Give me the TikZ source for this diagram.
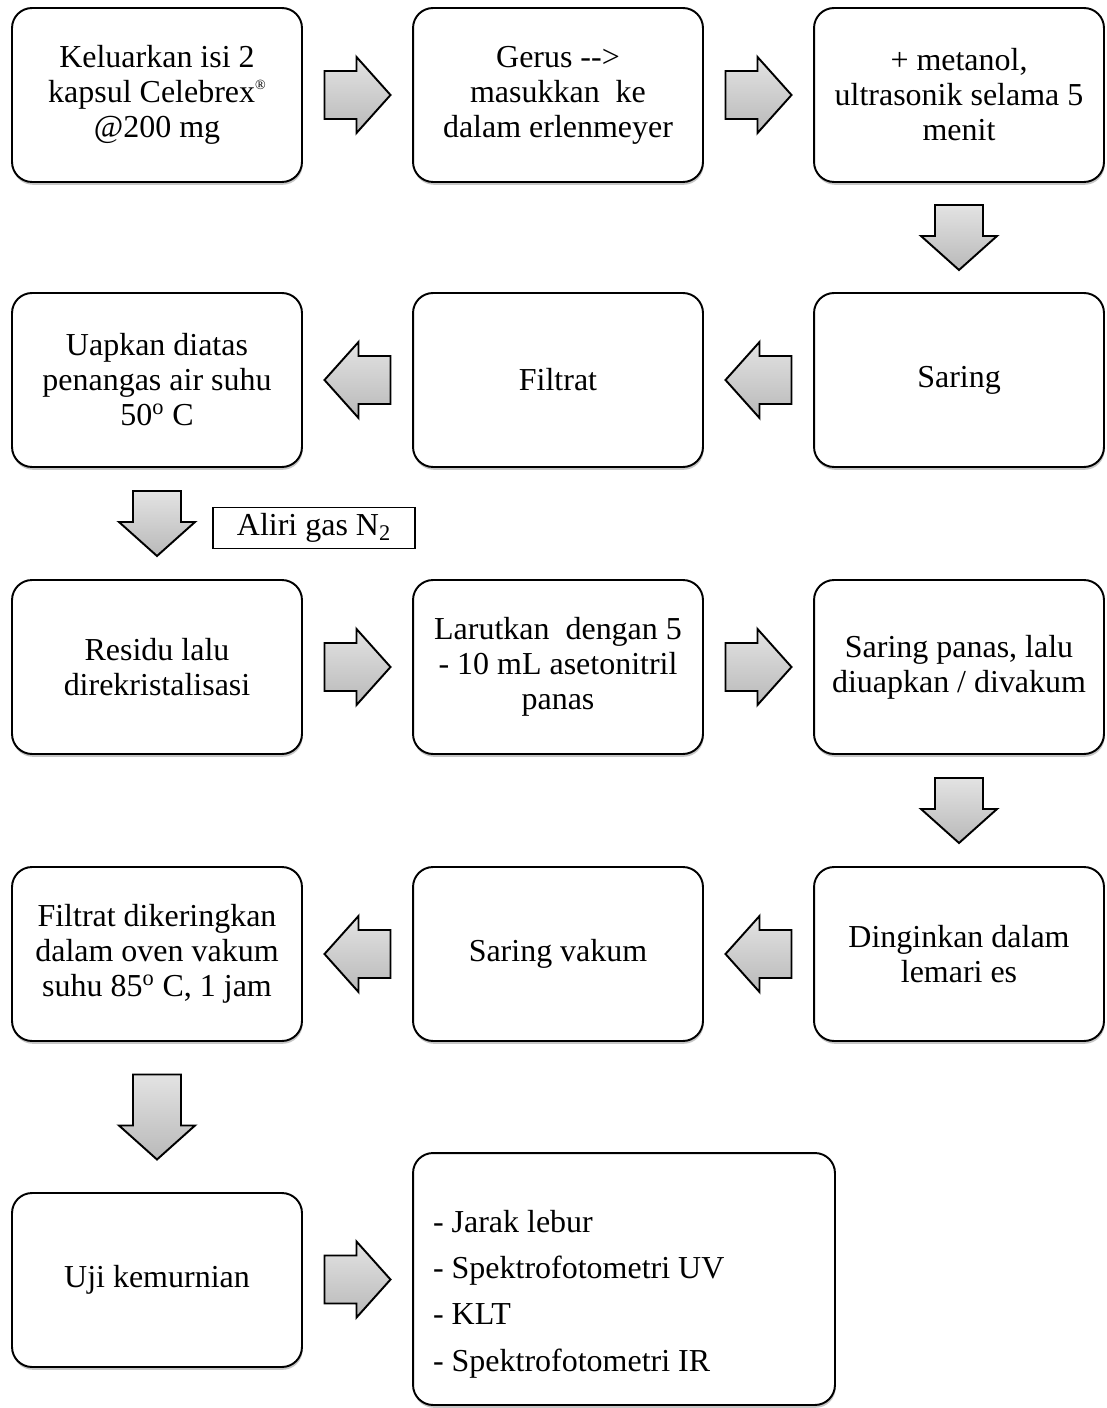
\documentclass[tikz,border=0pt]{standalone}
\usepackage{fontspec}
\setmainfont{Liberation Serif}
\usetikzlibrary{calc,shadows}

\newcommand\regmark{\raisebox{0.9ex}{\fontsize{8}{8}\selectfont ®}}

\tikzset{
  stepbox/.style={draw, line width=1.1pt, fill=white, rounded corners=0.4cm,
    minimum width=5.8cm, minimum height=3.48cm, align=center,
    font=\fontsize{18.2}{19.9}\selectfont,
    drop shadow={shadow xshift=0.4pt, shadow yshift=-1.6pt, opacity=.45}},
  gasbox/.style={draw, line width=0.6pt, fill=white, minimum width=4.04cm,
    minimum height=0.8cm, font=\fontsize{18.2}{19.9}\selectfont},
  flowarrow/.style={draw=black, line width=1.1pt, line join=miter,
    top color=gray!22, bottom color=gray!55},
  % block arrow centred on the origin, #1 = total length
  pics/blk/.style={code={
    \path[flowarrow] (-#1/2,-24) -- (#1/2-34,-24) -- (#1/2-34,-38) -- (#1/2,0)
      -- (#1/2-34,38) -- (#1/2-34,24) -- (-#1/2,24) -- cycle;
  }}
}

\begin{document}
\begin{tikzpicture}[x=0.02cm, y=0.02cm]
\useasboundingbox (0,0) rectangle (1106,-1408);

% row 1
\node[stepbox] (s1) at (157,-95) {Keluarkan isi 2\\kapsul Celebrex\regmark\\@200 mg};
\node[stepbox] (s2) at (558,-95) {Gerus {-}{-}>\\masukkan\ \ ke\\dalam erlenmeyer};
\node[stepbox] (s3) at (959,-95) {+ metanol,\\ultrasonik selama 5\\menit};
% row 2
\node[stepbox] (s4) at (959,-380) {Saring};
\node[stepbox] (s5) at (558,-380) {Filtrat};
\node[stepbox] (s6) at (157,-380) {Uapkan diatas\\penangas air suhu\\50\textsuperscript{o} C};
\node[gasbox] (gas) at (314,-528) {Aliri gas N\textsubscript{2}};
% row 3
\node[stepbox] (s7) at (157,-667) {Residu lalu\\direkristalisasi};
\node[stepbox] (s8) at (558,-667) {Larutkan\ \ dengan 5\\- 10 mL asetonitril\\panas};
\node[stepbox] (s9) at (959,-667) {Saring panas, lalu\\diuapkan / divakum};
% row 4
\node[stepbox] (s10) at (959,-954) {Dinginkan dalam\\lemari es};
\node[stepbox] (s11) at (558,-954) {Saring vakum};
\node[stepbox] (s12) at (157,-954) {Filtrat dikeringkan\\dalam oven vakum\\suhu 85\textsuperscript{o} C, 1 jam};
% row 5
\node[stepbox] (s13) at (157,-1280) {Uji kemurnian};
\node[stepbox, align=flush left, text width=7.64cm, inner xsep=0.4cm, minimum height=5.04cm,
  font=\fontsize{18.2}{26.2}\selectfont] (s14) at (624,-1279)
  {\rule{0pt}{30pt}- Jarak lebur\\- Spektrofotometri UV\\- KLT\\- Spektrofotometri IR};

% arrows between the steps
\foreach \a/\b in {s1/s2, s2/s3, s7/s8, s8/s9, s13/s14}
{
    \pic at ($(\a.east)!.5!(\b.west)$) {blk=66};
}
\foreach \a/\b in {s4/s5, s5/s6, s10/s11, s11/s12}
{
    \pic[rotate=180] at ($(\a.west)!.5!(\b.east)$) {blk=66};
}
\foreach \a/\b in {s3/s4, s6/s7, s9/s10}
{
    \pic[rotate=-90] at ($(\a.south)!.5!(\b.north)$) {blk=65};
}
\pic[rotate=-90] at ($(s12.south)!.5!(s13.north)$) {blk=85};
\end{tikzpicture}
\end{document}
